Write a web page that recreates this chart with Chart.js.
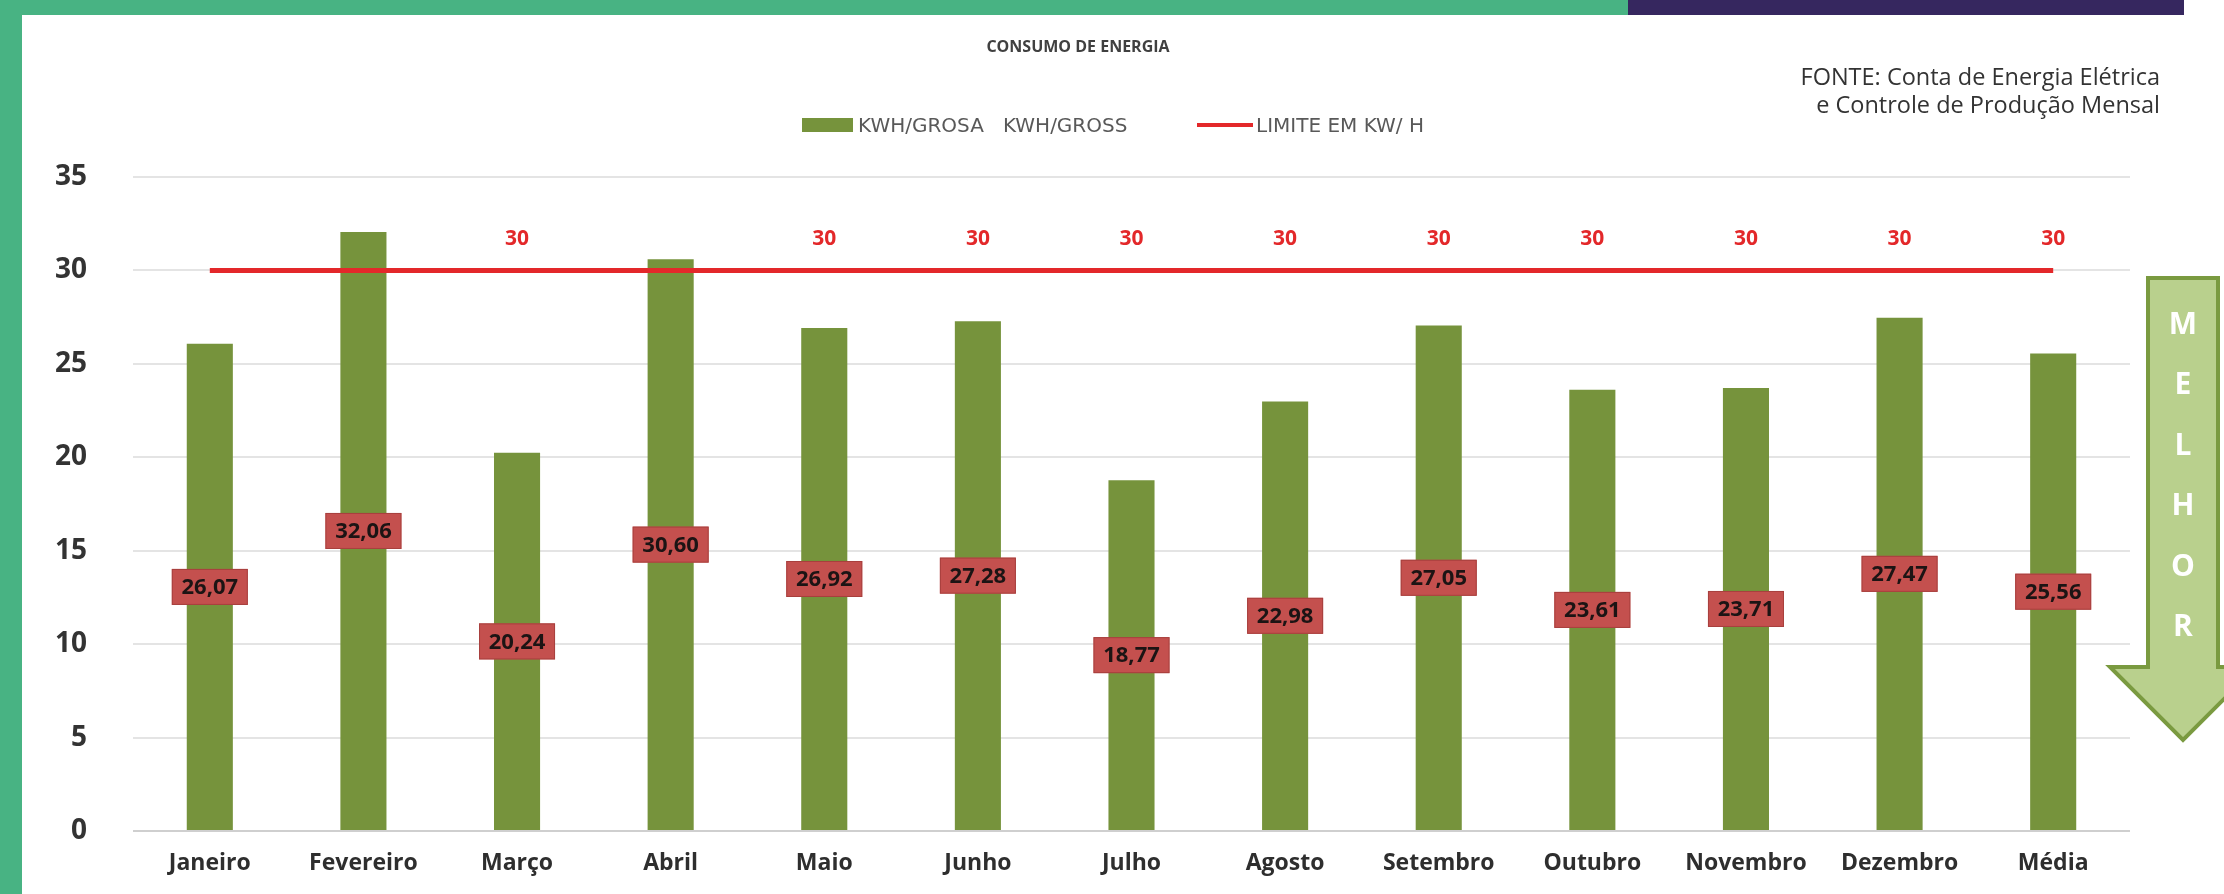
<!DOCTYPE html>
<html>
<head>
<meta charset="utf-8">
<script src="https://cdn.jsdelivr.net/npm/chart.js@4"></script>
<style>
  html, body { margin: 0; padding: 0; background: #fff; }
  body { width: 2224px; height: 894px; position: relative; overflow: hidden; font-family: "Open Sans", sans-serif; }
  #wrap { position: absolute; left: 0; top: 0; width: 2224px; height: 894px; }
  .band { position: absolute; }
  #title { position: absolute; top: 35px; left: 0; width: 2156px; text-align: center; font-weight: bold; font-size: 16px; color: #404040; }
  #legend { position: absolute; top: 112px; left: 802px; height: 26px; font-size: 20px; color: #595959; font-family: "DejaVu Sans", sans-serif; }
  #legend span { position: absolute; white-space: nowrap; top: 0; line-height: 26px; }
  #fonte { position: absolute; top: 62px; right: 64px; text-align: right; font-size: 23.5px; line-height: 28px; color: #333; }
</style>
</head>
<body>
<div class="band" style="left:0;top:0;width:1628px;height:15px;background:#48b383;"></div>
<div class="band" style="left:1628px;top:0;width:556px;height:15px;background:#36275f;"></div>
<div class="band" style="left:0;top:0;width:22px;height:894px;background:#48b383;"></div>
<div id="wrap"><canvas id="myChart" width="2224" height="894"></canvas></div>
<div id="title">CONSUMO DE ENERGIA</div>
<div id="legend"></div>
<div id="fonte">FONTE: Conta de Energia Elétrica<br>e Controle de Produção Mensal</div>
<script>
const meses = ["Janeiro", "Fevereiro", "Março", "Abril", "Maio", "Junho", "Julho",
  "Agosto", "Setembro", "Outubro", "Novembro", "Dezembro", "Média"];
const kwhGrosa = [26.07, 32.06, 20.24, 30.60, 26.92, 27.28, 18.77, 22.98, 27.05, 23.61, 23.71, 27.47, 25.56];
const limite = [30, 30, 30, 30, 30, 30, 30, 30, 30, 30, 30, 30, 30];
// the source only shows the "30" label on these months
const limiteComRotulo = [2, 4, 5, 6, 7, 8, 9, 10, 11, 12];
const yTicks = [0, 5, 10, 15, 20, 25, 30, 35];
const serieBarra = "KWH/GROSA   KWH/GROSS";
const serieLinha = "LIMITE EM KW/ H";
const letrasSeta = ["M", "E", "L", "H", "O", "R"];

const verde = "#76933c";
const vermelho = "#e3282a";

function fmt(v) {
  return v.toFixed(2).replace(".", ",");
}

const labelsPlugin = {
  id: "labelsPlugin",
  afterDatasetsDraw(chart) {
    const ctx = chart.ctx;
    ctx.save();
    // bar value boxes in the middle of each bar
    const bars = chart.getDatasetMeta(0).data;
    ctx.font = "bold 22px 'Open Sans'";
    ctx.textAlign = "center";
    ctx.textBaseline = "middle";
    bars.forEach((el, i) => {
      const cy = (el.y + el.base) / 2;
      const w = 76, h = 36;
      ctx.fillStyle = "#c4504e";
      ctx.fillRect(el.x - w / 2, cy - h / 2, w, h);
      ctx.strokeStyle = "#a8403e";
      ctx.lineWidth = 1;
      ctx.strokeRect(el.x - w / 2 + 0.5, cy - h / 2 + 0.5, w - 1, h - 1);
      ctx.fillStyle = "#1c1414";
      ctx.fillText(fmt(kwhGrosa[i]), el.x, cy + 1);
    });
    // limit labels above the line
    const pts = chart.getDatasetMeta(1).data;
    ctx.fillStyle = vermelho;
    ctx.font = "bold 21px 'Open Sans'";
    pts.forEach((el, i) => {
      if (limiteComRotulo.includes(i)) ctx.fillText(String(limite[i]), el.x, el.y - 31);
    });
    ctx.restore();
  },
  afterDraw(chart) {
    // "MELHOR" down arrow at the right side
    const ctx = chart.ctx;
    const a = chart.chartArea;
    const cx = a.right + 53;
    const top = a.top + 101, neck = a.top + 490, tip = a.top + 563;
    ctx.save();
    ctx.beginPath();
    ctx.moveTo(cx - 35, top);
    ctx.lineTo(cx + 35, top);
    ctx.lineTo(cx + 35, neck);
    ctx.lineTo(cx + 73, neck);
    ctx.lineTo(cx, tip);
    ctx.lineTo(cx - 73, neck);
    ctx.lineTo(cx - 35, neck);
    ctx.closePath();
    ctx.fillStyle = "#b9d08d";
    ctx.fill();
    ctx.strokeStyle = "#7a9a40";
    ctx.lineWidth = 4;
    ctx.stroke();
    ctx.fillStyle = "#ffffff";
    ctx.font = "bold 30px 'Open Sans'";
    ctx.textAlign = "center";
    ctx.textBaseline = "middle";
    letrasSeta.forEach((l, i) => {
      ctx.fillText(l, cx, a.top + 148 + i * 60.5);
    });
    ctx.restore();
  }
};

function drawChart() {
  const ctx = document.getElementById("myChart").getContext("2d");
  const myChart = new Chart(ctx, {
    type: "bar",
    data: {
      labels: meses,
      datasets: [
        {
          label: serieBarra,
          data: kwhGrosa,
          backgroundColor: verde,
          barPercentage: 0.3,
          categoryPercentage: 1,
          order: 1,
        },
        {
          type: "line",
          label: serieLinha,
          data: limite,
          borderColor: vermelho,
          backgroundColor: vermelho,
          borderWidth: 5,
          pointRadius: 0,
          tension: 0,
          order: 0,
        },
      ],
    },
    options: {
      responsive: false,
      animation: false,
      devicePixelRatio: 1,
      layout: { padding: { left: 0, right: 94, top: 177, bottom: 0 } },
      scales: {
        x: {
          grid: { display: false, drawTicks: false },
          border: { display: false },
          ticks: { color: "#2e2e2e", font: { family: "Open Sans", size: 23, weight: "bold" }, padding: 19 },
          afterFit: (scale) => { scale.height = 63; },
        },
        y: {
          min: 0,
          max: 35,
          afterBuildTicks: (scale) => { scale.ticks = yTicks.map((v) => ({ value: v })); },
          grid: {
            drawTicks: false,
            lineWidth: 2,
            color: (c) => (c.tick && c.tick.value === 0 ? "#cfcfcf" : "#e4e4e4"),
          },
          border: { display: false },
          ticks: { color: "#333", font: { family: "Open Sans", size: 28, weight: "bold" }, padding: 46 },
          afterFit: (scale) => { scale.width = 133; },
        },
      },
      plugins: {
        legend: { display: false },
        tooltip: { enabled: false },
      },
    },
    plugins: [labelsPlugin],
  });
  buildLegend(myChart);
}

function buildLegend(chart) {
  const lg = document.getElementById("legend");
  const ds = chart.data.datasets;
  lg.innerHTML =
    '<span style="left:0;top:6px;width:51px;height:14px;background:' + ds[0].backgroundColor + ';"></span>' +
    '<span style="left:56px;">' + ds[0].label.replace(/ /g, "&nbsp;") + '</span>' +
    '<span style="left:395px;top:11px;width:56px;height:4px;background:' + ds[1].borderColor + ';"></span>' +
    '<span style="left:454px;">' + ds[1].label + '</span>';
}

drawChart();
</script>
</body>
</html>
